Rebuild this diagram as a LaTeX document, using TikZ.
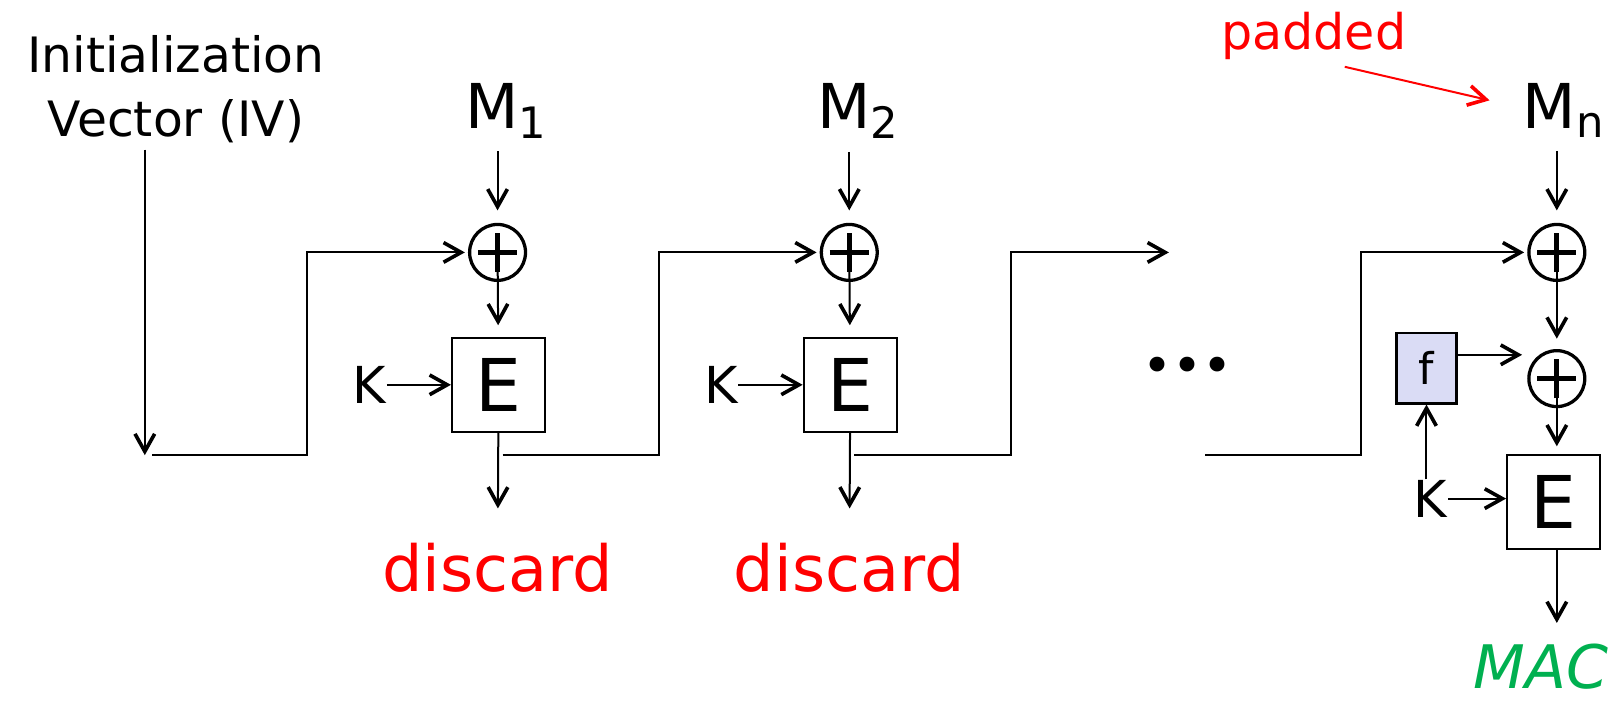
\documentclass[tikz,border=0pt]{standalone}
\usepackage{fontspec}
\setmainfont{DejaVu Sans}
\usetikzlibrary{arrows.meta,positioning}
\definecolor{fboxfill}{RGB}{218,220,245}
\definecolor{macgreen}{RGB}{0,176,80}

\begin{document}
\begin{tikzpicture}[x=0.01cm, y=-0.01cm, every node/.style={inner sep=0pt}]
\tikzset{ebox/.style={draw, line width=0.6pt, minimum width=0.9cm, minimum height=0.91cm, font=\fontsize{20pt}{24pt}\selectfont}}
\tikzset{fbox/.style={draw, line width=0.6pt, fill=fboxfill, minimum width=0.58cm, minimum height=0.68cm, font=\fontsize{12pt}{14pt}\selectfont}}
\tikzset{xorop/.style={draw, circle, line width=0.9pt, minimum size=0.54cm,
  path picture={\draw[line width=1.3pt] ([xshift=-0.19cm]path picture bounding box.center) -- ([xshift=0.19cm]path picture bounding box.center);
    \draw[line width=1.3pt] ([yshift=-0.19cm]path picture bounding box.center) -- ([yshift=0.19cm]path picture bounding box.center);}}}
\tikzset{msg/.style={anchor=base, font=\fontsize{17pt}{20pt}\selectfont}}
\tikzset{keyin/.style={font=\fontsize{14pt}{17pt}\selectfont}}
\tikzset{dropped/.style={anchor=base, text=red, font=\fontsize{17.5pt}{21pt}\selectfont}}
\tikzset{arrow/.style={-{Straight Barb[length=1.7mm, width=1.9mm, line width=1pt]}, line width=0.55pt}}
\useasboundingbox (0,0) rectangle (1568,681);

\node[align=center, font=\fontsize{13.4pt}{17.6pt}\selectfont] (iv) at (170,86) {Initialization\\Vector (IV)};
\node[msg] (m1) at (490,124) {M\textsubscript{1}};
\node[msg] (m2) at (830,124) {M\textsubscript{2}};
\node[msg] (mn) at (1512,124) {M\textsubscript{n}};
\node[anchor=base, text=red, font=\fontsize{13.5pt}{16pt}\selectfont] (pad) at (1270,48) {padded};

% block 1
\node[xorop] (x1) at (481,244) {};
\node[ebox] (e1) at (482,372) {E};
\node[keyin, left=0.62cm of e1] (k1) {K};
\node[dropped] (d1) at (481,572) {discard};
% block 2
\node[xorop] (x2) at (821,244) {};
\node[ebox] (e2) at (822,372) {E};
\node[keyin, left=0.62cm of e2] (k2) {K};
\node[dropped] (d2) at (821,572) {discard};
\node[font=\fontsize{14pt}{17pt}\selectfont] (dots) at (1148,358) {•••};
% last block
\node[xorop] (x3) at (1505,244) {};
\node[xorop] (x4) at (1505,366) {};
\node[fbox] (f) at (1379,356) {f};
\node[ebox] (e3) at (1502,485) {E};
\node[keyin] (k3) at (1383,482) {K};
\node[anchor=base, text=macgreen, font=\fontsize{16.5pt}{19pt}\selectfont\itshape] (mac) at (1490,666) {MAC};

\coordinate (ivend) at (140,440);
\coordinate (b1) at (486,440);
\coordinate (b2) at (826,440);
\coordinate (b3) at (1165,440);
\coordinate (gap) at (1130,244);
\coordinate (padtip) at (1440,97);

\draw[arrow, shorten <=0.06cm] (iv.south -| ivend) -- (ivend);
\draw[arrow, shorten >=0.03cm] ([xshift=0.07cm]ivend) -- ++(150,0) |- (x1);
\draw[arrow, shorten <=0.12cm, shorten >=0.12cm] (m1.south -| x1) -- (x1);
\draw[arrow, shorten >=0.11cm] (x1.center) -- (e1);
\draw[arrow] (k1) -- (e1);
\draw[arrow, shorten >=0.33cm] (e1) -- (d1);
\draw[arrow, shorten >=0.03cm] (b1) -- ++(151,0) |- (x2);
\draw[arrow, shorten <=0.12cm, shorten >=0.12cm] (m2.south -| x2) -- (x2);
\draw[arrow, shorten >=0.11cm] (x2.center) -- (e2);
\draw[arrow] (k2) -- (e2);
\draw[arrow, shorten >=0.33cm] (e2) -- (d2);
\draw[arrow] (b2) -- ++(151,0) |- (gap);
\draw[arrow, shorten >=0.03cm] (b3) -- ++(151,0) |- (x3);
\draw[arrow, shorten <=0.12cm, shorten >=0.12cm] (mn.south -| x3) -- (x3);
\draw[arrow, shorten >=0.1cm] (x3.center) -- (x4);
\draw[arrow, shorten >=0.05cm] ([yshift=0.13cm]f.east) -- ([yshift=0.13cm]f.east -| x4.west);
\draw[arrow] (f.south |- k3.north) -- (f.south);
\draw[arrow] (k3) -- (k3 -| e3.west);
\draw[arrow, shorten >=0.07cm] (x4.center) -- (x4 |- e3.north);
\draw[arrow, shorten >=0.2cm] (x4 |- e3.south) -- (x4 |- mac.north);
\draw[arrow, red] ([xshift=0.3cm,yshift=-0.06cm]pad.south) -- (padtip);
\end{tikzpicture}
\end{document}
